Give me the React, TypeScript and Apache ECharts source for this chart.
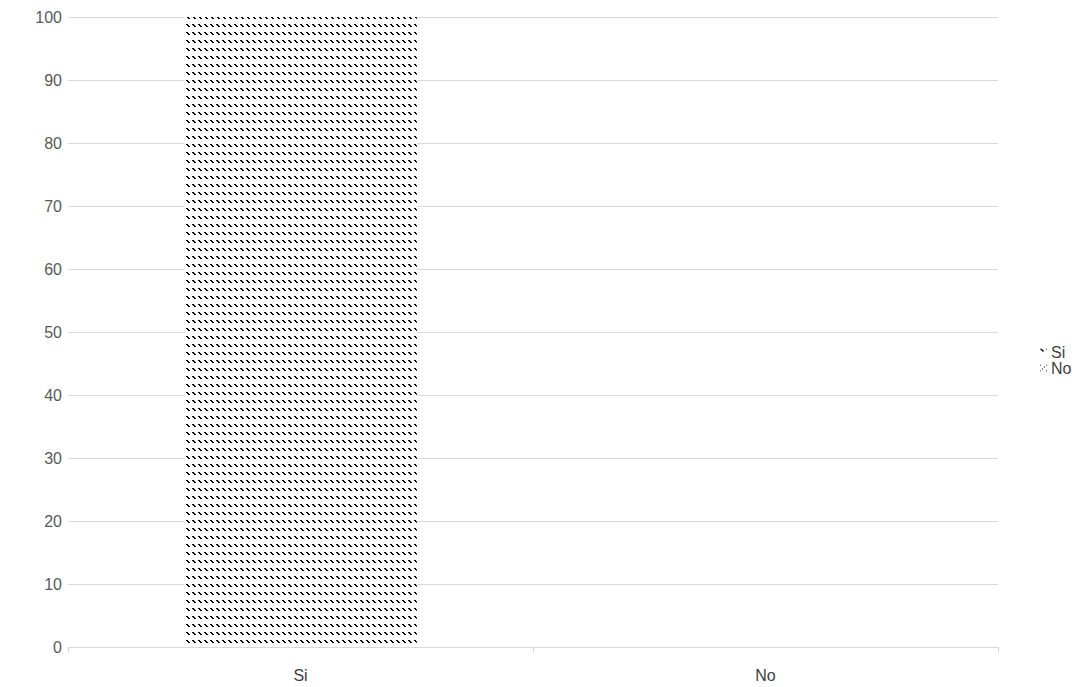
import React, { useEffect, useRef } from "react";
import * as echarts from "echarts";

const categories = ["Si", "No"];
const seriesNames = ["Si", "No"];
const siValues = [100, 0];
const noValues = [0, 0];
const yTicks = { min: 0, max: 100, interval: 10 };

function makePattern(pixels: number[][], w: number, h: number) {
  const c = document.createElement("canvas");
  c.width = w;
  c.height = h;
  const ctx = c.getContext("2d")!;
  ctx.fillStyle = "#ffffff";
  ctx.fillRect(0, 0, w, h);
  ctx.fillStyle = "#000000";
  pixels.forEach(([x, y]) => ctx.fillRect(x, y, 1, 1));
  return c;
}

export default function App() {
  const ref = useRef<HTMLDivElement>(null);
  useEffect(() => {
    document.body.style.margin = "0";
    const chart = echarts.init(ref.current!, null, { renderer: "svg" });
    const siPat = makePattern(
      [
        [0, 0],
        [1, 0],
        [1, 1],
        [2, 1],
        [2, 2],
        [3, 2],
      ],
      6,
      8
    );
    const noPat = makePattern(
      [
        [0, 0],
        [4, 2],
        [2, 4],
      ],
      6,
      6
    );
    const labelFont = "'Liberation Sans', Arial, sans-serif";
    chart.setOption({
      animation: false,
      backgroundColor: "#ffffff",
      grid: { left: 68, right: 93, top: 17, bottom: 40, containLabel: false },
      legend: {
        orient: "vertical",
        left: 1035,
        top: 339,
        itemWidth: 7,
        itemHeight: 7,
        itemGap: 0,
        icon: "rect",
        data: seriesNames,
        textStyle: {
          color: "#404040",
          fontSize: 16,
          lineHeight: 14,
          fontFamily: labelFont,
          padding: [0, 0, 0, -1],
        },
      },
      xAxis: {
        type: "category",
        data: categories,
        axisLine: { show: true, lineStyle: { color: "#d9d9d9", width: 1 } },
        axisTick: { show: true, alignWithLabel: false, length: 6, lineStyle: { color: "#d9d9d9" } },
        axisLabel: { color: "#404040", fontSize: 16, fontFamily: labelFont, margin: 20 },
        splitLine: { show: false },
      },
      yAxis: {
        type: "value",
        min: yTicks.min,
        max: yTicks.max,
        interval: yTicks.interval,
        axisLine: { show: false },
        axisTick: { show: false },
        axisLabel: { color: "#595959", fontSize: 16, fontFamily: labelFont, margin: 6 },
        splitLine: { show: true, lineStyle: { color: "#d9d9d9", width: 1 } },
      },
      series: [
        {
          name: seriesNames[0],
          type: "bar",
          stack: "total",
          barWidth: "50%",
          data: siValues,
          itemStyle: { color: { image: siPat, repeat: "repeat", x: 2, y: 3 } },
        },
        {
          name: seriesNames[1],
          type: "bar",
          stack: "total",
          barWidth: "50%",
          data: noValues,
          itemStyle: { color: { image: noPat, repeat: "repeat" } },
        },
      ],
    });
    return () => chart.dispose();
  }, []);
  return <div ref={ref} style={{ width: 1091, height: 687 }} />;
}
